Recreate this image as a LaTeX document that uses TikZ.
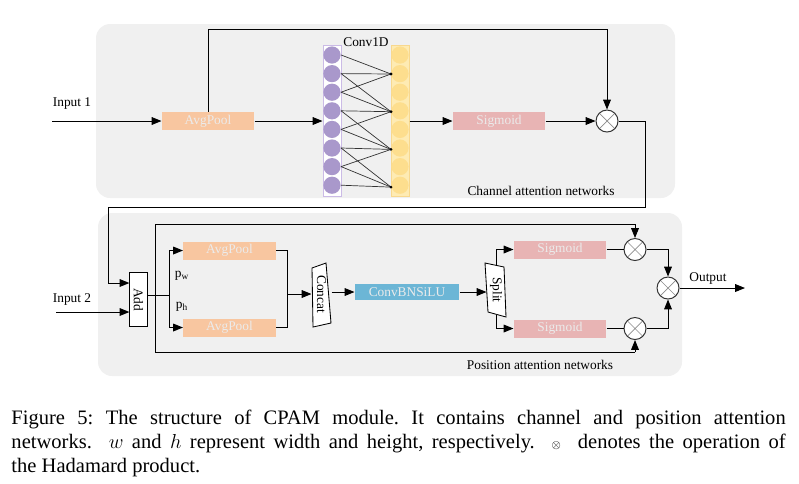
\documentclass[tikz,border=0pt]{standalone}
\usepackage{fontspec}
\setmainfont{Liberation Serif}
\usepackage{graphicx}
\usetikzlibrary{arrows.meta}
\definecolor{panelgray}{HTML}{F0F0F0}
\definecolor{poolpeach}{HTML}{F8C6A0}
\definecolor{sigpink}{HTML}{E8B4B4}
\definecolor{convblue}{HTML}{6CB6D6}
\definecolor{lilac}{HTML}{A998CB}
\definecolor{lilacedge}{HTML}{CBBBE6}
\definecolor{paleyellow}{HTML}{FEEBB3}
\definecolor{softyellow}{HTML}{FDDE8E}
\definecolor{yellowedge}{HTML}{F8D88E}
\begin{document}
\begin{tikzpicture}[x=0.025cm,y=-0.025cm,line width=0.7pt,
				>={Triangle[length=7pt,width=5.5pt]},
				box/.style={minimum width=2.3cm,minimum height=0.45cm,inner sep=0pt,text=white!92!black,font=\fontsize{9.5}{10}\selectfont},
				pool/.style={box,fill=poolpeach},
				sig/.style={box,fill=sigpink},
				hada/.style={circle,draw=black!80,fill=white,minimum size=0.55cm,inner sep=0pt,
					path picture={\draw[line width=0.5pt,black!45] (path picture bounding box.north west) -- (path picture bounding box.south east)
						(path picture bounding box.north east) -- (path picture bounding box.south west);}},
				lbl/.style={inner sep=1pt,font=\fontsize{9.5}{11}\selectfont}]
\useasboundingbox (0,0) rectangle (799,483);
\fill[panelgray,rounded corners=0.35cm] (96,24) rectangle (675,198);
\fill[panelgray,rounded corners=0.35cm] (98,213) rectangle (682,376);

\node[lbl] (in1) at (72,104) {Input 1};
\coordinate (in1s) at (52,121);
\node[pool] (ap1) at (208,121) {AvgPool};
\node[minimum width=0.45cm,minimum height=3.78cm,inner sep=0pt,draw=lilacedge,fill=white] (pcol) at (332,121) {};
\node[minimum width=0.45cm,minimum height=3.78cm,inner sep=0pt,draw=yellowedge,fill=paleyellow] (ycol) at (400,121) {};
\foreach \i in {0,...,7} {
	\node[circle,fill=lilac,minimum size=0.43cm,inner sep=0pt] (p\i) at (332,{55+18.6*\i}) {};
	\node[circle,fill=softyellow,minimum size=0.43cm,inner sep=0pt] (y\i) at (400,{55+18.6*\i}) {};
}
\foreach \j in {0,...,3}
	\coordinate (o\j) at (391,{74+37.7*\j});
\foreach \j/\ins in {0/{0,1,2},1/{1,2,3,4},2/{3,4,5,6},3/{5,6,7}} {
	\foreach \i in \ins
		\draw[line width=0.5pt,black!80] (p\i.east) -- (o\j);
	\fill (o\j) circle (1.1pt);
}
\node[lbl] (conv1d) at (366,42) {Conv1D};
\node[sig] (sg1) at (499,121) {Sigmoid};
\node[hada] (h1) at (607,121) {};
\node[lbl] (chan) at (541,191) {Channel attention networks};
\coordinate (ctop) at (607,29);
\coordinate (cdown) at (645,207);
\coordinate (cleft) at (108,283);

\draw[->] (in1s) -- (ap1.west);
\draw[->] (ap1.east) -- (ap1.east -| pcol.west);
\draw (ap1.north) |- (ctop);
\draw[->] (ctop) -- (h1.north);
\draw[->] (ycol.east |- sg1) -- (sg1.west);
\draw[->] (sg1.east) -- (h1.west);

\node[lbl] (in2) at (72,299) {Input 2};
\coordinate (in2s) at (56,312);
\node[draw,minimum width=0.43cm,minimum height=1.33cm,inner sep=0pt,fill=white,font=\fontsize{9.5}{11}\selectfont] (add) at (138.5,299.5) {\rotatebox{-90}{Add}};
\coordinate (csplit) at (169,295);
\coordinate (cby) at (155,295);
\node[pool] (ap2) at (229.5,250.5) {AvgPool};
\node[pool] (ap3) at (229.5,327.5) {AvgPool};
\node[lbl] (pw) at (182,276) {p\textsubscript{w}};
\node[lbl] (ph) at (182,307) {p\textsubscript{h}};
\coordinate (cmerge) at (287,294);
\fill[white] (312,268) -- (326,263) -- (331,323) -- (313,327) -- cycle;
\draw[line width=0.6pt] (312,268) -- (326,263) -- (331,323) -- (313,327) -- cycle;
\node[inner sep=0pt,minimum width=0.475cm,minimum height=1.4cm,font=\fontsize{9.5}{11}\selectfont] (cat) at (321.5,294) {\rotatebox{-90}{Concat}};
\node[box,fill=convblue,minimum width=2.6cm,minimum height=0.42cm] (cbs) at (407,292) {ConvBNSiLU};
\fill[white] (485,263) -- (504,267) -- (506,317) -- (488,312) -- cycle;
\draw[line width=0.6pt] (485,263) -- (504,267) -- (506,317) -- (488,312) -- cycle;
\node[inner sep=0pt,minimum width=0.45cm,minimum height=1.2cm,font=\fontsize{9.5}{11}\selectfont] (split) at (496,290) {\rotatebox{-90}{Split}};
\node[sig] (sg2) at (560,249.5) {Sigmoid};
\node[sig] (sg3) at (560,328.5) {Sigmoid};
\node[hada] (h2) at (635,249.5) {};
\node[hada] (h3) at (635,328.5) {};
\node[hada] (h4) at (668,288) {};
\node[lbl] (out) at (708,278) {Output};
\coordinate (outs) at (745,288);
\coordinate (bt) at (635,224);
\coordinate (bb) at (635,352);
\node[lbl] (pos) at (540,365) {Position attention networks};

\draw (h1.east) -| (cdown) -| (cleft);
\draw[->] (cleft) -- (cleft -| add.west);
\draw[->] (in2s) -- (in2s -| add.west);
\draw (add.east |- csplit) -- (csplit);
\draw[->] (csplit) |- (ap2.west);
\draw[->] (csplit) |- (ap3.west);
\draw (cby) |- (bt);
\draw[->] (bt) -- (h2.north);
\draw (cby) |- (bb);
\draw[->] (bb) -- (h3.south);
\draw (ap2.east) -| (cmerge);
\draw (ap3.east) -| (cmerge);
\draw[->] (cmerge) -- (cmerge -| cat.west);
\draw[->] (cat.east |- cbs) -- (cbs.west);
\draw[->] (cbs.east) -- (cbs.east -| split.west);
\draw[->] (split.north) |- (sg2.west);
\draw[->] (split.south) |- (sg3.west);
\draw (sg2.east) -- (h2.west);
\draw (sg3.east) -- (h3.west);
\draw[->] (h2.east) -| (h4.north);
\draw[->] (h3.east) -| (h4.south);
\draw[->] (h4.east) -- (outs);

\node[anchor=north west,text width=19.35cm,align=justify,inner sep=0pt,font=\fontsize{14.6}{16.9}\selectfont\frenchspacing] (caption) at (11,410)
	{Figure 5: The structure of CPAM module. It contains channel and position attention\linebreak
	networks. \ $w$ and $h$ represent width and height, respectively. \ {\footnotesize$\otimes$} \ denotes the operation of\linebreak
	the Hadamard product.};
\end{tikzpicture}
\end{document}
